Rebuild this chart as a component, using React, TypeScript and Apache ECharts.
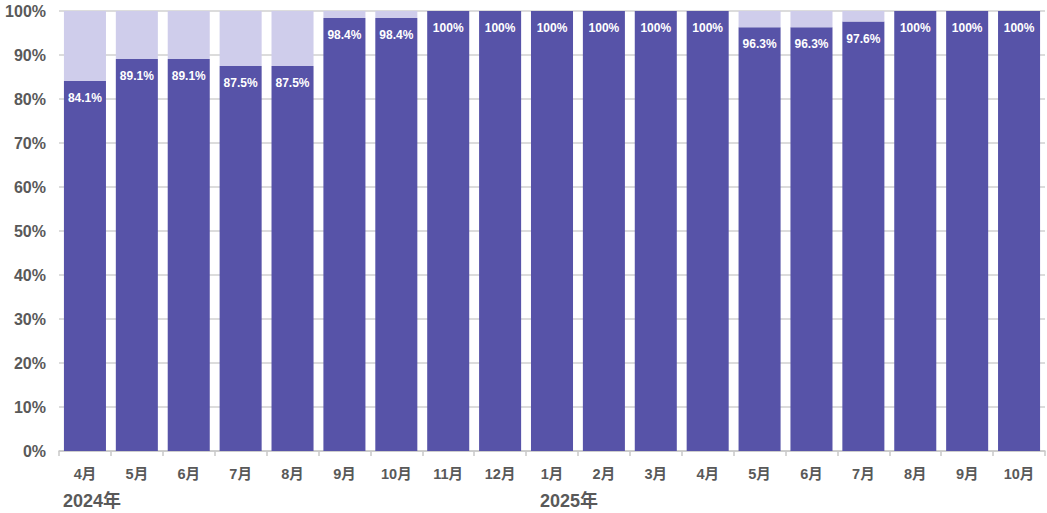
import React, { useEffect, useRef } from "react";
import * as echarts from "echarts";

const months = ["4月", "5月", "6月", "7月", "8月", "9月", "10月", "11月", "12月", "1月", "2月", "3月", "4月", "5月", "6月", "7月", "8月", "9月", "10月"];
const achieved = [84.1, 89.1, 89.1, 87.5, 87.5, 98.4, 98.4, 100, 100, 100, 100, 100, 100, 96.3, 96.3, 97.6, 100, 100, 100];
const remainder = achieved.map((v) => Math.round((100 - v) * 10) / 10);
const yearLabels = [
  { index: 0, text: "2024年", shift: -22 },
  { index: 9, text: "2025年", shift: -12 },
];

const FONT = '"Liberation Sans", Arial, "Noto Sans CJK JP", sans-serif';

export default function App() {
  const ref = useRef<HTMLDivElement>(null);
  useEffect(() => {
    const chart = echarts.init(ref.current!, null, { renderer: "svg" });
    chart.setOption({
      animation: false,
      textStyle: { fontFamily: FONT },
      grid: { left: 59, right: 2, top: 11, bottom: 62 },
      xAxis: {
        type: "category",
        data: months,
        axisLine: { lineStyle: { color: "#c8c8c8", width: 1.5 } },
        axisTick: { show: true, length: 5, lineStyle: { color: "#c8c8c8", width: 1.5 } },
        axisLabel: { color: "#595959", fontSize: 14.5, fontWeight: "bold", margin: 16, fontFamily: FONT },
      },
      yAxis: {
        type: "value",
        min: 0,
        max: 100,
        interval: 10,
        axisLine: { show: false },
        axisTick: { show: false },
        axisLabel: { color: "#595959", fontSize: 16, fontWeight: "bold", margin: 13, formatter: "{value}%", fontFamily: FONT },
        splitLine: { lineStyle: { color: "#d0d0d0", width: 1.5 } },
      },
      series: [
        {
          type: "bar",
          stack: "s",
          data: achieved,
          barCategoryGap: "19%",
          itemStyle: { color: "#5753A8" },
          label: {
            show: true,
            position: "insideTop",
            distance: 11,
            color: "#ffffff",
            fontSize: 12,
            fontWeight: "bold",
            fontFamily: FONT,
            formatter: (p: any) => `${p.value}%`,
          },
        },
        {
          type: "bar",
          stack: "s",
          data: remainder,
          itemStyle: { color: "#CFCDEB" },
        },
      ],
    });
    const graphics = yearLabels.map((y) => {
      const cx = chart.convertToPixel({ xAxisIndex: 0 }, y.index) as number;
      return {
        type: "text",
        left: cx + y.shift,
        top: 492,
        style: { text: y.text, fill: "#595959", font: `bold 18px ${FONT}` },
      };
    });
    chart.setOption({ graphic: graphics });
    return () => chart.dispose();
  }, []);
  return <div ref={ref} style={{ width: 1047, height: 513, position: "absolute", left: 0, top: 0 }} />;
}
